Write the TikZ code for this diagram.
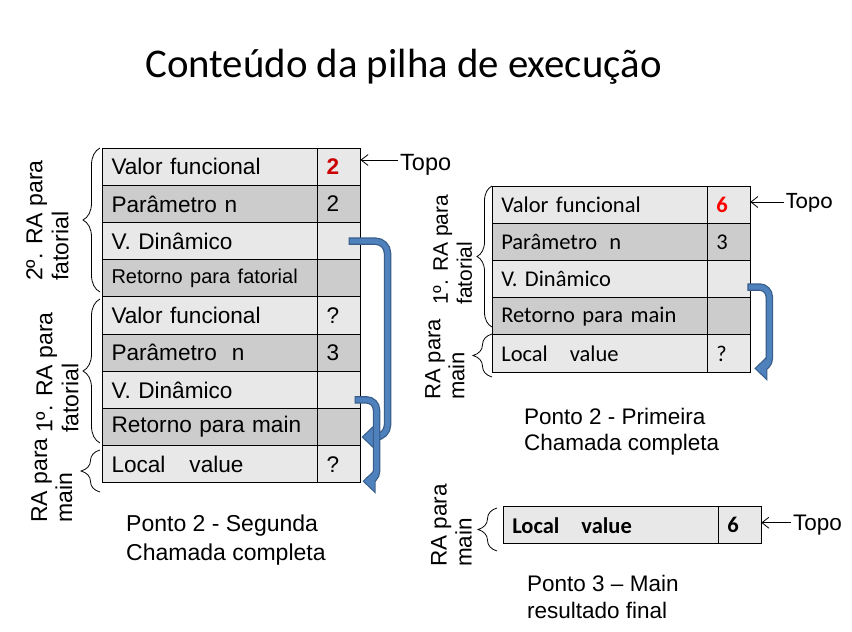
\documentclass[tikz,border=0pt]{standalone}
\usepackage{fontspec}
\setmainfont{Liberation Sans}
\newfontfamily\calibri{Carlito}
\usepackage{xcolor}
\usepackage{tikz}
\usetikzlibrary{arrows.meta, positioning, calc, decorations.pathreplacing}
\definecolor{rowlight}{RGB}{232,232,232}
\definecolor{rowdark}{RGB}{204,204,204}
\definecolor{arrowblue}{RGB}{79,129,189}
\definecolor{arrowedge}{RGB}{56,93,138}
\definecolor{valred}{RGB}{204,0,0}
\definecolor{valbright}{RGB}{255,0,0}
\tikzset{
  cell/.style={draw, line width=0.9pt, anchor=north west, minimum height=37.2pt, inner ysep=0pt, inner xsep=9pt, align=left, outer sep=0pt},
  celltext/.style={cell, text width=197pt},
  cellval/.style={cell, text width=25pt},
  ragrp/.style={decorate, decoration={brace, amplitude=#1}, line width=0.8pt},
  ralabel/.style={rotate=90, anchor=north west, align=left, inner sep=0pt},
  caption/.style={anchor=north west, align=left, inner sep=0pt},
  topoarrow/.style={-{Straight Barb[length=7pt, width=11pt]}, line width=0.8pt},
  bendout/.style={arrowedge, line width=7.5pt, rounded corners=#1, -{Triangle[length=13pt, width=24pt]}},
  bendin/.style={arrowblue, line width=5pt, rounded corners=#1, -{Triangle[length=10.5pt, width=19pt]}, shorten >=1.6pt, shorten <=1.2pt}
}
% one row of a stack: x, top y, name, fill, text, value
\newcommand{\pilharow}[6]{%
  \node[celltext, fill=#4] (#3) at (#1,#2) {#5};
  \node[cellval, fill=#4] (#3v) at (#3.north east) {#6};
}

\begin{document}
\begin{tikzpicture}[x=1pt, y=-1pt]
    \useasboundingbox (0,0) rectangle (852,632);

    % Title
    \node[font=\calibri\fontsize{40.8}{46}\selectfont, anchor=base] (titulo) at (403.5,77) {Conteúdo da pilha de execução};

    % Ponto 2 - segunda chamada
    \begin{scope}[font=\fontsize{22.6}{26}\selectfont]
        \pilharow{102.5}{148.3}{avf2}{rowlight}{Valor funcional}{\textcolor{valred}{\bfseries 2}}
        \pilharow{102.5}{185.5}{apn2}{rowdark}{Parâmetro n}{2}
        \pilharow{102.5}{222.6}{avd2}{rowlight}{V. Dinâmico}{}
        \pilharow{102.5}{259.8}{arf2}{rowdark}{{\fontsize{20}{23}\selectfont Retorno para fatorial}}{}
        \pilharow{102.5}{296.9}{avf1}{rowlight}{Valor funcional}{?}
        \pilharow{102.5}{334.1}{apn1}{rowdark}{Parâmetro\hspace{15pt}n}{3}
        \pilharow{102.5}{371.3}{avd1}{rowlight}{V. Dinâmico}{}
        \pilharow{102.5}{408.4}{arm1}{rowdark}{Retorno para main}{}
        \pilharow{102.5}{445.6}{alv}{rowlight}{Local\hspace{24pt}value}{?}
    \end{scope}

    \draw[ragrp=17] (100,292) -- (100,148);
    \draw[ragrp=17] (100,443) -- (100,299);
    \draw[ragrp=19] (100,492) -- (100,450);

    \node[ralabel, font=\fontsize{23}{26}\selectfont] (ara2) at (26,281) {2º. RA para\\fatorial};
    \node[ralabel, font=\fontsize{23}{26}\selectfont] (ara1) at (36,433) {1º. RA para\\fatorial};
    \node[ralabel, font=\fontsize{23}{25}\selectfont] (aram) at (31,523) {RA para\\main};

    \node[anchor=base west, inner sep=0pt, font=\fontsize{23.5}{26}\selectfont] (topoa) at (400,170) {Topo};
    \coordinate (topoaend) at (398,160);
    \draw[topoarrow] (topoaend) -- (topoaend -| avf2v.east);

    \draw[bendout=12pt] ([xshift=-12pt]avd2v.east) -- ++(39,0) |- ([xshift=1pt,yshift=-10pt]arm1v.east);
    \draw[bendin=12pt] ([xshift=-12pt]avd2v.east) -- ++(39,0) |- ([xshift=1pt,yshift=-10pt]arm1v.east);
    \draw[bendout=10pt] ([xshift=-6pt,yshift=-10pt]avd1v.east) -- ++(22,0) |- ([xshift=2pt,yshift=-17pt]alvv.east);
    \draw[bendin=10pt] ([xshift=-6pt,yshift=-10pt]avd1v.east) -- ++(22,0) |- ([xshift=2pt,yshift=-17pt]alvv.east);

    \node[caption, font=\fontsize{23}{29}\selectfont] (capa) at (126,515) {Ponto 2 - Segunda\\Chamada completa};

    % Ponto 2 - primeira chamada
    \begin{scope}[font=\calibri\fontsize{22.5}{25}\selectfont]
        \pilharow{492.3}{186}{bvf}{rowlight}{Valor funcional}{\textcolor{valbright}{\bfseries 6}}
        \pilharow{492.3}{223.2}{bpn}{rowdark}{Parâmetro\hspace{12pt}n}{3}
        \pilharow{492.3}{260.4}{bvd}{rowlight}{V. Dinâmico}{}
        \pilharow{492.3}{297.6}{brm}{rowdark}{Retorno para main}{}
        \pilharow{492.3}{334.8}{blv}{rowlight}{Local\hspace{22pt}value}{?}
    \end{scope}

    \draw[ragrp=15] (492,327) -- (492,186);
    \draw[ragrp=19] (492,377) -- (492,334);

    \node[ralabel, font=\fontsize{21}{24}\selectfont] (bra1) at (433,305) {1º. RA para\\fatorial};
    \node[ralabel, font=\fontsize{22}{24}\selectfont] (bram) at (425,400) {RA para\\main};

    \node[anchor=base west, inner sep=0pt, font=\calibri\fontsize{23.5}{26}\selectfont] (topob) at (786,208) {Topo};
    \coordinate (topobend) at (784,202);
    \draw[topoarrow] (topobend) -- (topobend -| bvfv.east);

    \draw[bendout=10pt] ([xshift=-3pt,yshift=-8pt]bvdv.east) -- ++(22,0) |- ([xshift=4pt,yshift=-15pt]blvv.east);
    \draw[bendin=10pt] ([xshift=-3pt,yshift=-8pt]bvdv.east) -- ++(22,0) |- ([xshift=4pt,yshift=-15pt]blvv.east);

    \node[caption, font=\fontsize{22.5}{26}\selectfont] (capb) at (524,408) {Ponto 2 - Primeira\\Chamada completa};

    % Ponto 3 - main
    \begin{scope}[font=\calibri\bfseries\fontsize{22.5}{25}\selectfont]
        \pilharow{503.3}{506.7}{clv}{rowlight}{Local\hspace{22pt}value}{6}
    \end{scope}

    \draw[ragrp=19] (497,551) -- (497,508);
    \node[ralabel, font=\fontsize{22.5}{25}\selectfont] (cram) at (431,567) {RA para\\main};

    \node[anchor=base west, inner sep=0pt, font=\fontsize{22.5}{25}\selectfont] (topoc) at (793,530) {Topo};
    \coordinate (topocend) at (791,522.7);
    \draw[topoarrow] (topocend) -- (topocend -| clvv.east);

    \node[caption, font=\fontsize{22.5}{27}\selectfont] (capc) at (527,575) {Ponto 3 – Main\\resultado final};
\end{tikzpicture}
\end{document}
